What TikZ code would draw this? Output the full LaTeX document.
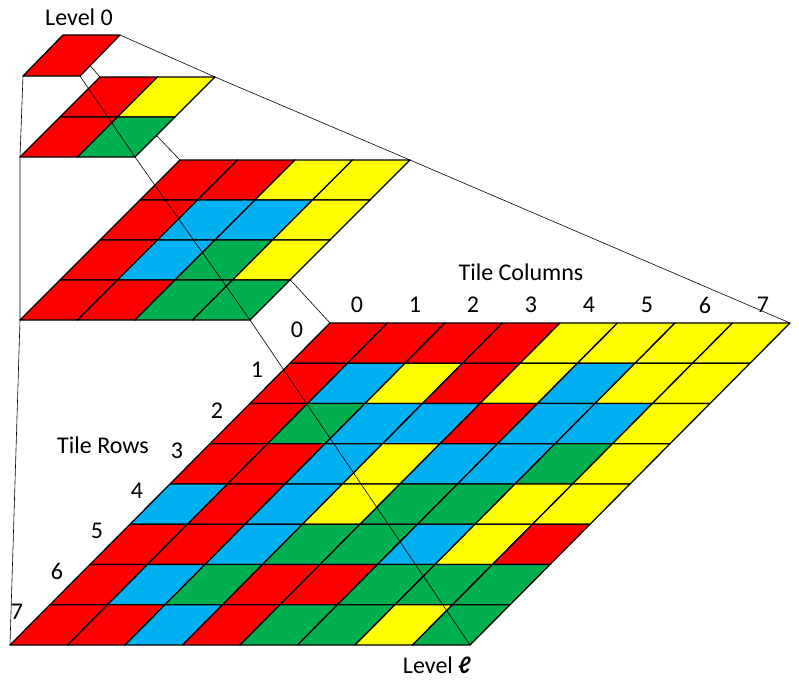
\documentclass[tikz,border=0pt]{standalone}
\usepackage{fontspec}
\setmainfont{Carlito}
\definecolor{R}{HTML}{FF0000}
\definecolor{Y}{HTML}{FFFF00}
\definecolor{B}{HTML}{00B0F0}
\definecolor{G}{HTML}{00B050}
\begin{document}
\begin{tikzpicture}[x=1pt,y=-1pt,
  cell/.style={draw=black,line width=1.3pt,line join=round},
  thin/.style={draw=black,line width=0.6pt},
  lab/.style={font=\fontsize{24}{28}\selectfont,inner sep=0pt}]
\useasboundingbox (0,0) rectangle (799,688);
% grid macro: #1 X, #2 Y, #3 w, #4 h, #5 s, #6 rows
\newcommand{\tilegrid}[6]{%
  \foreach \row [count=\r from 0] in {#6} {
    \foreach \col [count=\c from 0] in \row {
      \path[cell,fill=\col]
        ({#1+\c*#3-\r*#5},{#2+\r*#4}) -- ++(#3,0) -- ++(-#5,#4) -- ++(-#3,0) -- cycle;
    }
  }%
}
% corners
\coordinate (a0) at (63,35);  \coordinate (b0) at (120,35);
\coordinate (c0) at (80,76);  \coordinate (d0) at (23,76);
\coordinate (a1) at (100,77); \coordinate (b1) at (215,77);
\coordinate (c1) at (135,157);\coordinate (d1) at (20,157);
\coordinate (a2) at (180,160);\coordinate (b2) at (410,160);
\coordinate (c2) at (250,320);\coordinate (d2) at (20,320);
\coordinate (a3) at (330,323);\coordinate (b3) at (790,323);
\coordinate (c3) at (470,645);\coordinate (d3) at (10,645);
% hidden edge
\draw[thin] (a0) -- (a1) -- (a2) -- (a3);
\tilegrid{330}{323}{57.5}{40.25}{40}{{R,R,R,R,Y,Y,Y,Y},{R,B,Y,R,Y,B,Y,Y},{R,G,B,B,R,B,B,Y},{R,R,B,Y,B,B,G,Y},{B,R,B,Y,G,G,Y,Y},{R,R,B,G,G,B,Y,R},{R,B,G,R,R,G,G,G},{R,R,B,R,G,G,Y,G}}
\tilegrid{180}{160}{57.5}{40}{40}{{R,R,Y,Y},{R,B,B,Y},{R,B,G,Y},{R,R,G,G}}
\tilegrid{100}{77}{57.5}{40}{40}{{R,Y},{R,G}}
\tilegrid{63}{35}{57}{41}{40}{{R}}
\draw[thin] (b0) -- (b1) -- (b2) -- (b3);
\draw[thin] (d0) -- (d1) -- (d2) -- (d3);
\draw[thin] (c0) -- (c1) -- (c2) -- (c3);
% labels
\node[lab] (l0) at (79,17) {Level 0};
\node[lab] (tc) at (521,272) {Tile Columns};
\node[lab] (tr) at (103,445) {Tile Rows};
\node[lab] (ll) at (437,665) {Level \textbf{\textit{ℓ}}};
\foreach \i in {0,...,7} {
  \node[lab] (col\i) at ({357+\i*58},305) {\i};
  \node[lab] (row\i) at ({297-\i*40},{330+\i*40.25}) {\i};
}
\end{tikzpicture}
\end{document}
